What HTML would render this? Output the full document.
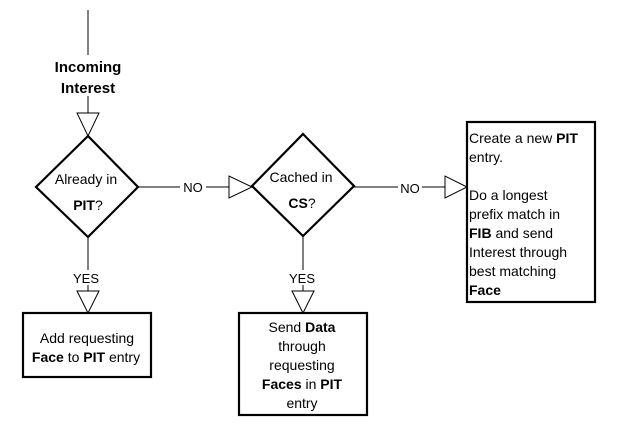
<!DOCTYPE html>
<html><head><style>
html,body{margin:0;padding:0;background:#fff;}
svg text{font-family:"Liberation Sans",Arial,sans-serif;}
</style></head><body>
<svg width="635" height="440" viewBox="0 0 635 440" xmlns="http://www.w3.org/2000/svg">
<g stroke="#000" fill="none" stroke-width="1">
<line x1="88" y1="10" x2="88" y2="55"/>
<line x1="88" y1="96" x2="88" y2="113"/>
<polygon points="77,113 99,113 88,136" fill="#fff"/>
<line x1="88" y1="237" x2="88" y2="270"/>
<line x1="88" y1="285" x2="88" y2="291"/>
<polygon points="77,291 99,291 88,313" fill="#fff"/>
<line x1="138" y1="187" x2="180" y2="187"/>
<line x1="206" y1="187" x2="229" y2="187"/>
<polygon points="229,176 229,198 252,187" fill="#fff"/>
<line x1="303" y1="236" x2="303" y2="270"/>
<line x1="303" y1="285" x2="303" y2="291"/>
<polygon points="292,291 314,291 303,313" fill="#fff"/>
<line x1="354" y1="187" x2="398" y2="187"/>
<line x1="422" y1="187" x2="445" y2="187"/>
<polygon points="445,176 445,198 467,187" fill="#fff"/>
</g>
<g stroke="#000" fill="#fff" stroke-width="2.2">
<polygon points="88,136 138,187 88,237 36,187"/>
<polygon points="303,134 354,186 303,236 252,186"/>
<rect x="23" y="313" width="128" height="64"/>
<rect x="239" y="313" width="128" height="102"/>
<rect x="467" y="122" width="128" height="180"/>
</g>
<g font-size="14" fill="#000">
<text x="88" y="72" text-anchor="middle" font-weight="bold" font-size="15">Incoming</text>
<text x="88" y="93" text-anchor="middle" font-weight="bold" font-size="15">Interest</text>
<text x="86" y="184" text-anchor="middle">Already in</text>
<text x="88" y="210" text-anchor="middle"><tspan font-weight="bold">PIT</tspan>?</text>
<text x="193" y="192" text-anchor="middle" font-size="13">NO</text>
<text x="86" y="283" text-anchor="middle" font-size="13">YES</text>
<text x="87" y="343" text-anchor="middle">Add requesting</text>
<text x="86" y="362" text-anchor="middle"><tspan font-weight="bold">Face</tspan> to <tspan font-weight="bold">PIT</tspan> entry</text>
<text x="301" y="182" text-anchor="middle">Cached in</text>
<text x="302" y="208" text-anchor="middle"><tspan font-weight="bold">CS</tspan>?</text>
<text x="410" y="193" text-anchor="middle" font-size="13">NO</text>
<text x="302" y="283" text-anchor="middle" font-size="13">YES</text>
<text x="302" y="332" text-anchor="middle">Send <tspan font-weight="bold">Data</tspan></text>
<text x="302" y="351" text-anchor="middle">through</text>
<text x="302" y="370" text-anchor="middle">requesting</text>
<text x="302" y="389" text-anchor="middle"><tspan font-weight="bold">Faces</tspan> in <tspan font-weight="bold">PIT</tspan></text>
<text x="302" y="408" text-anchor="middle">entry</text>
<text x="469" y="143">Create a new <tspan font-weight="bold">PIT</tspan></text>
<text x="469" y="162">entry.</text>
<text x="469" y="200">Do a longest</text>
<text x="469" y="219">prefix match in</text>
<text x="469" y="238"><tspan font-weight="bold">FIB</tspan> and send</text>
<text x="469" y="257">Interest through</text>
<text x="469" y="276">best matching</text>
<text x="469" y="295" font-weight="bold">Face</text>
</g>
</svg>
</body></html>
